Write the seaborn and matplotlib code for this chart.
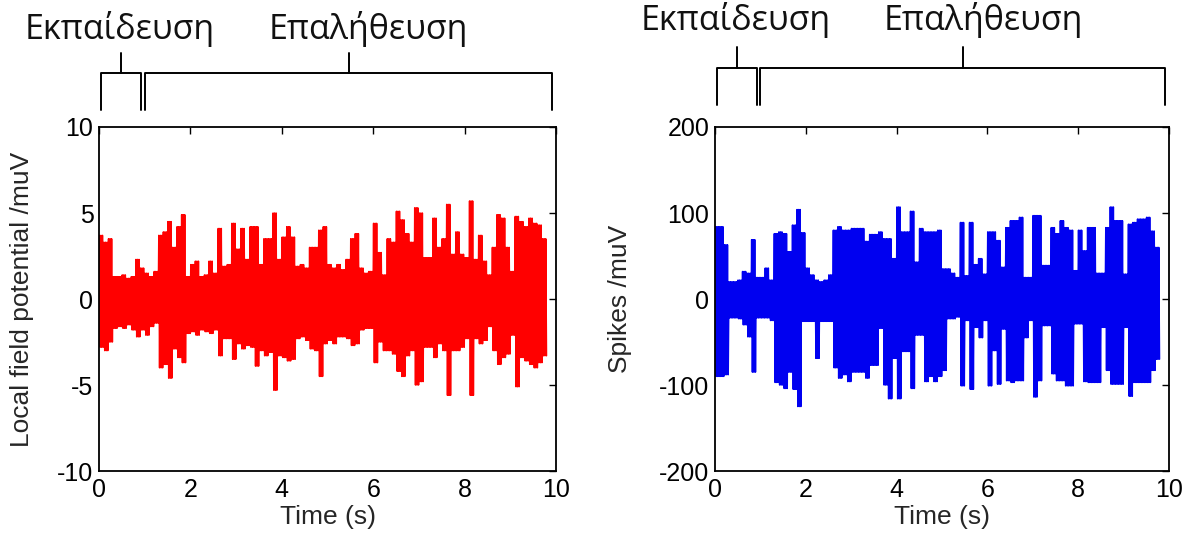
import numpy as np
import pandas as pd
import matplotlib
matplotlib.use("Agg")
import matplotlib.pyplot as plt
import seaborn as sns

# ---------------- data ----------------
bin_width = 0.1  # seconds per envelope bin
bin_start = [round(i * bin_width, 1) for i in range(98)]  # 0.0 .. 9.7 s

lfp_hi = [3.7, 3.3, 3.5, 1.3, 1.3, 1.4, 1.2, 1.3, 2.3, 1.8,
          1.5, 1.3, 1.6, 3.7, 3.9, 4.5, 3.0, 4.2, 4.9, 1.3,
          2.0, 2.2, 1.3, 1.4, 2.2, 1.5, 4.1, 1.9, 2.0, 4.4,
          2.9, 4.1, 2.3, 4.2, 4.2, 2.0, 3.5, 3.5, 5.0, 2.3,
          3.6, 4.2, 3.6, 1.9, 2.0, 1.8, 3.0, 3.0, 4.0, 4.2,
          2.0, 1.8, 2.0, 1.7, 2.3, 3.5, 3.8, 1.8, 1.5, 1.6,
          4.4, 2.7, 1.4, 3.5, 3.3, 5.1, 4.6, 3.8, 3.3, 5.3,
          5.0, 2.4, 2.4, 4.7, 3.0, 3.5, 5.5, 2.6, 3.9, 2.6,
          2.4, 5.7, 2.3, 3.7, 2.2, 1.4, 3.0, 4.9, 4.7, 3.0,
          1.6, 4.8, 4.5, 4.2, 4.7, 4.4, 4.3, 3.5]
lfp_lo = [-2.8, -3.0, -2.5, -1.7, -1.6, -1.7, -1.5, -1.8, -2.2, -1.8,
          -2.1, -1.6, -1.4, -4.0, -3.8, -4.6, -2.9, -3.4, -3.7, -2.0,
          -1.9, -2.1, -1.8, -1.9, -2.0, -1.8, -3.3, -2.3, -2.3, -3.5,
          -2.6, -2.9, -2.7, -2.8, -3.9, -3.0, -3.3, -3.1, -5.3, -3.3,
          -3.4, -3.6, -3.5, -2.3, -2.2, -2.4, -2.9, -3.0, -4.5, -2.6,
          -2.4, -2.6, -2.2, -2.2, -2.3, -2.7, -2.6, -1.8, -1.7, -1.7,
          -3.7, -2.5, -3.0, -3.0, -3.2, -4.2, -4.5, -3.3, -3.0, -5.0,
          -4.8, -2.8, -2.8, -3.4, -2.6, -3.0, -5.6, -3.0, -3.0, -2.8,
          -2.3, -5.6, -2.3, -2.6, -2.4, -1.6, -3.0, -3.8, -3.4, -3.2,
          -2.1, -5.1, -3.4, -3.6, -3.8, -4.0, -3.7, -3.3]

spk_hi = [84, 84, 63, 20, 20, 22, 32, 30, 69, 25,
          25, 36, 22, 76, 78, 76, 55, 86, 104, 77,
          36, 28, 22, 20, 22, 28, 80, 84, 80, 80,
          82, 82, 82, 67, 75, 75, 78, 70, 70, 47,
          107, 78, 78, 102, 43, 82, 78, 78, 78, 80,
          35, 35, 30, 25, 89, 27, 89, 40, 47, 29,
          78, 78, 68, 37, 83, 91, 91, 95, 25, 25,
          97, 97, 39, 39, 83, 76, 91, 83, 80, 33,
          80, 56, 83, 83, 30, 30, 83, 107, 91, 91,
          29, 87, 89, 93, 93, 95, 79, 60]
spk_lo = [-90, -90, -88, -22, -22, -23, -30, -44, -85, -22,
          -22, -22, -25, -97, -100, -104, -85, -105, -125, -26,
          -26, -26, -69, -26, -26, -26, -80, -92, -88, -96,
          -85, -85, -85, -92, -77, -77, -34, -100, -116, -69,
          -116, -61, -61, -104, -42, -42, -96, -90, -96, -90,
          -83, -23, -23, -21, -101, -25, -105, -33, -45, -25,
          -101, -60, -99, -35, -95, -97, -95, -95, -45, -25,
          -114, -95, -31, -31, -87, -95, -95, -101, -101, -29,
          -29, -96, -97, -97, -97, -33, -83, -99, -99, -99,
          -33, -113, -97, -97, -97, -97, -83, -70]

x_ticks = [0, 2, 4, 6, 8, 10]
lfp_ticks = [-10, -5, 0, 5, 10]
spk_ticks = [-200, -100, 0, 100, 200]
train_label = "Εκπαίδευση"
valid_label = "Επαλήθευση"
train_span = (0.05, 0.92)
valid_span = (1.0, 9.92)

strokes_per_bin = 3  # up/down strokes drawn inside each envelope bin


def trace(hi, lo):
    rows = []
    n = 2 * strokes_per_bin
    for t, h, l in zip(bin_start, hi, lo):
        for k in range(n):
            rows.append((t + (k + 0.5) / n * bin_width, h if k % 2 == 0 else l))
    return pd.DataFrame(rows, columns=["t", "v"])


# ---------------- figure ----------------
sns.set_theme(style="white")
plt.rcParams["font.family"] = ["Liberation Sans Narrow", "Liberation Sans", "DejaVu Sans"]
plt.rcParams["axes.unicode_minus"] = False

fig = plt.figure(figsize=(11.96, 5.5), dpi=100)
ax1 = fig.add_axes([0.0828, 0.1436, 0.3821, 0.6255])
ax2 = fig.add_axes([0.5978, 0.1436, 0.3796, 0.6255])

panels = [
    (ax1, lfp_hi, lfp_lo, "#ff0000", (-10, 10), lfp_ticks,
     "Local field potential /muV", -0.142, (1.049, 1.157, 1.215, 1.256)),
    (ax2, spk_hi, spk_lo, "#0000f0", (-200, 200), spk_ticks,
     "Spikes /muV", -0.183, (1.064, 1.172, 1.233, 1.282)),
]

for ax, hi, lo, col, ylim, yt, ylab, ylx, (yb, yh, yc, yt_txt) in panels:
    df = trace(hi, lo)
    sns.lineplot(data=df, x="t", y="v", ax=ax, color=col, lw=1.1,
                 estimator=None, sort=False)
    ax.set_xlim(0, 10)
    ax.set_ylim(*ylim)
    ax.set_xticks(x_ticks)
    ax.set_yticks(yt)
    ax.set_xlabel("Time (s)", fontsize=19)
    ax.set_ylabel(ylab, fontsize=19)
    ax.xaxis.set_label_coords(0.5, -0.1)
    ax.yaxis.set_label_coords(ylx, 0.5)
    ax.tick_params(direction="in", length=5, width=1.0, top=True, right=True,
                   labelsize=18, colors="black")
    ax.tick_params(axis="x", pad=5)
    ax.tick_params(axis="y", pad=4)
    for s in ax.spines.values():
        s.set_color("black")
        s.set_linewidth(1.3)
        s.set_visible(True)

    # brackets above the plot
    tr = ax.get_xaxis_transform()
    kw = dict(color="black", lw=1.4, transform=tr, clip_on=False)
    for (a, b) in (train_span, valid_span):
        ax.plot([a, a, b, b], [yb, yh, yh, yb], **kw)
        m = (a + b) / 2
        ax.plot([m, m], [yh, yc], **kw)
    ax.text(0.46, yt_txt, train_label, transform=tr, ha="center", va="baseline",
            fontsize=24.5, family=["Open Sans", "DejaVu Sans"], color="#111111")
    ax.text(5.9, yt_txt, valid_label, transform=tr, ha="center", va="baseline",
            fontsize=24.5, family=["Open Sans", "DejaVu Sans"], color="#111111")

fig.savefig("out.png", dpi=100, facecolor="white")
